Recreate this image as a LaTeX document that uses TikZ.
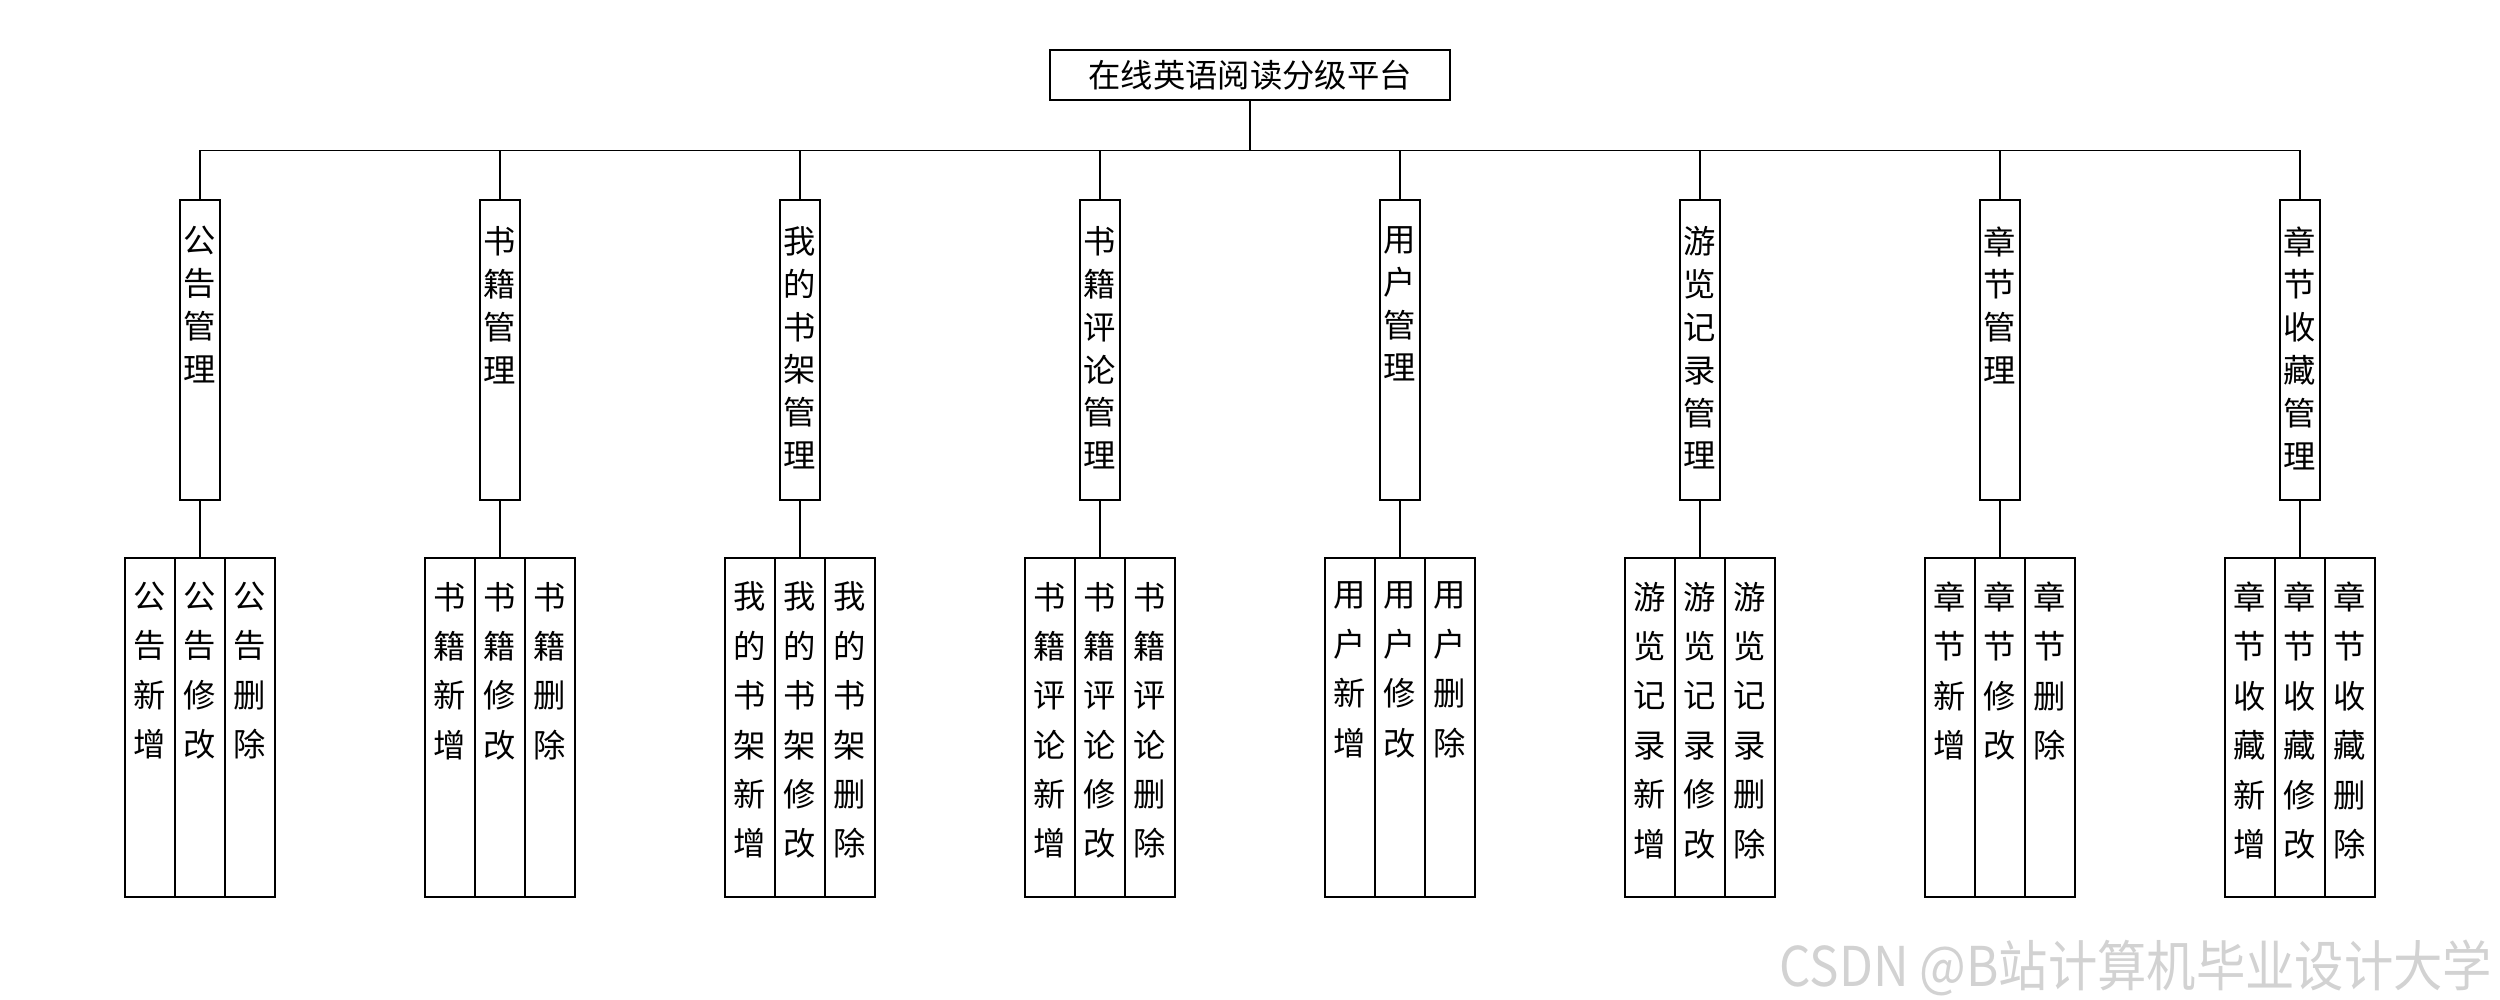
\documentclass[tikz,border=0pt]{standalone}
\usepackage{fontspec}
\setmainfont{Noto Sans CJK SC}
\newfontfamily\wmfont[FakeStretch=0.9]{Noto Sans CJK SC}
\usetikzlibrary{trees}

\begin{document}
\begin{tikzpicture}[line width=0.4pt,
    level 1/.style = {sibling distance=3cm, level distance=2.75cm,
      edge from parent path={(\tikzparentnode.south) -- +(0,-0.5) -| (\tikzchildnode.north)}},
    level 2/.style = {sibling distance=0.5cm, level distance=3.775cm},
    top/.style = {shape=rectangle, draw, inner sep=0pt,
      minimum width=4cm, minimum height=0.5cm,
      font=\fontsize{9.2pt}{11pt}\selectfont},
    mod/.style = {shape=rectangle, draw, inner sep=0pt,
      minimum width=0.4cm, minimum height=3cm},
    modtext/.style = {anchor=north, yshift=-0.264cm, align=center,
      inner sep=0pt, font=\fontsize{9.2pt}{12.2pt}\selectfont},
    op/.style = {shape=rectangle, draw, inner sep=0pt,
      minimum width=0.5cm, minimum height=3.39cm},
    optext/.style = {anchor=north, yshift=-0.24cm, align=center,
      inner sep=0pt, font=\fontsize{9.2pt}{14.05pt}\selectfont},
    watermark/.style = {anchor=base east, inner sep=0pt, text=gray!35,
      font=\wmfont\fontsize{15.6pt}{17pt}\selectfont}
    ]
    \useasboundingbox (0,0) rectangle (25,-10);
    \node[top] (root) at (12.5,-0.75) {在线英语阅读分级平台}
        child{node[mod, label={[modtext]north:公\\告\\管\\理}] (gg) {}
                child{node[op, label={[optext]north:公\\告\\新\\增}] (gg-add) {} edge from parent[draw=none]}
                child{node[op, label={[optext]north:公\\告\\修\\改}] (gg-edit) {}}
                child{node[op, label={[optext]north:公\\告\\删\\除}] (gg-del) {} edge from parent[draw=none]}}
        child{node[mod, label={[modtext]north:书\\籍\\管\\理}] (sj) {}
                child{node[op, label={[optext]north:书\\籍\\新\\增}] (sj-add) {} edge from parent[draw=none]}
                child{node[op, label={[optext]north:书\\籍\\修\\改}] (sj-edit) {}}
                child{node[op, label={[optext]north:书\\籍\\删\\除}] (sj-del) {} edge from parent[draw=none]}}
        child{node[mod, label={[modtext]north:我\\的\\书\\架\\管\\理}] (sjia) {}
                child{node[op, label={[optext]north:我\\的\\书\\架\\新\\增}] (sjia-add) {} edge from parent[draw=none]}
                child{node[op, label={[optext]north:我\\的\\书\\架\\修\\改}] (sjia-edit) {}}
                child{node[op, label={[optext]north:我\\的\\书\\架\\删\\除}] (sjia-del) {} edge from parent[draw=none]}}
        child{node[mod, label={[modtext]north:书\\籍\\评\\论\\管\\理}] (pl) {}
                child{node[op, label={[optext]north:书\\籍\\评\\论\\新\\增}] (pl-add) {} edge from parent[draw=none]}
                child{node[op, label={[optext]north:书\\籍\\评\\论\\修\\改}] (pl-edit) {}}
                child{node[op, label={[optext]north:书\\籍\\评\\论\\删\\除}] (pl-del) {} edge from parent[draw=none]}}
        child{node[mod, label={[modtext]north:用\\户\\管\\理}] (yh) {}
                child{node[op, label={[optext]north:用\\户\\新\\增}] (yh-add) {} edge from parent[draw=none]}
                child{node[op, label={[optext]north:用\\户\\修\\改}] (yh-edit) {}}
                child{node[op, label={[optext]north:用\\户\\删\\除}] (yh-del) {} edge from parent[draw=none]}}
        child{node[mod, label={[modtext]north:游\\览\\记\\录\\管\\理}] (ll) {}
                child{node[op, label={[optext]north:游\\览\\记\\录\\新\\增}] (ll-add) {} edge from parent[draw=none]}
                child{node[op, label={[optext]north:游\\览\\记\\录\\修\\改}] (ll-edit) {}}
                child{node[op, label={[optext]north:游\\览\\记\\录\\删\\除}] (ll-del) {} edge from parent[draw=none]}}
        child{node[mod, label={[modtext]north:章\\节\\管\\理}] (zj) {}
                child{node[op, label={[optext]north:章\\节\\新\\增}] (zj-add) {} edge from parent[draw=none]}
                child{node[op, label={[optext]north:章\\节\\修\\改}] (zj-edit) {}}
                child{node[op, label={[optext]north:章\\节\\删\\除}] (zj-del) {} edge from parent[draw=none]}}
        child{node[mod, label={[modtext]north:章\\节\\收\\藏\\管\\理}] (sc) {}
                child{node[op, label={[optext]north:章\\节\\收\\藏\\新\\增}] (sc-add) {} edge from parent[draw=none]}
                child{node[op, label={[optext]north:章\\节\\收\\藏\\修\\改}] (sc-edit) {}}
                child{node[op, label={[optext]north:章\\节\\收\\藏\\删\\除}] (sc-del) {} edge from parent[draw=none]}};
    \node[watermark] (wm) at (24.93,-9.86) {CSDN @B站计算机毕业设计大学};
  \end{tikzpicture}
\end{document}
